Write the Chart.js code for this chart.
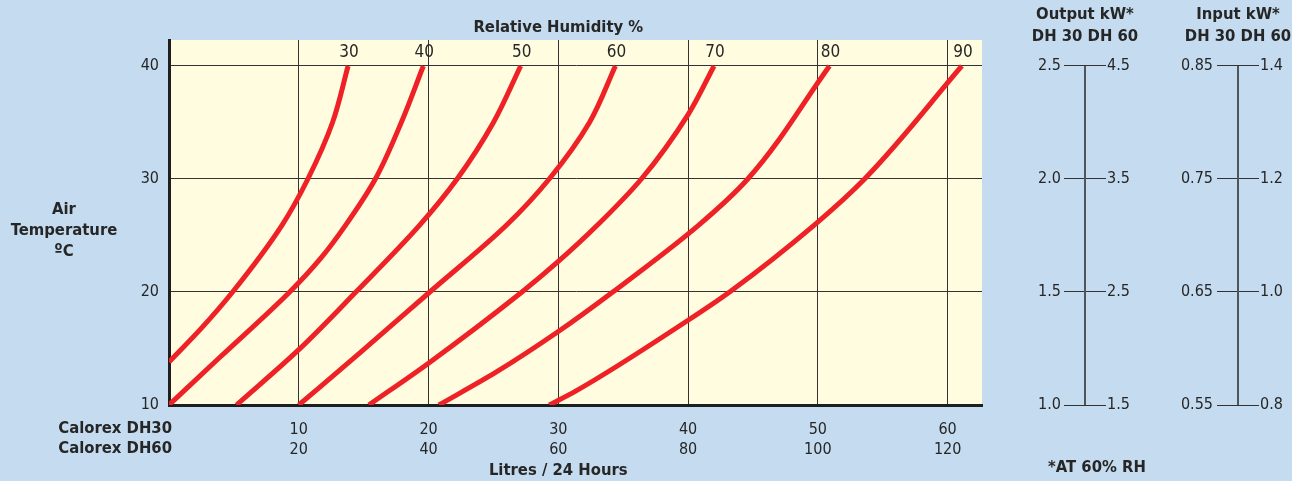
<!DOCTYPE html>
<html>
<head>
<meta charset="utf-8">
<title>Calorex DH30 / DH60 performance</title>
<script src="https://cdn.jsdelivr.net/npm/chart.js@4.4.0/dist/chart.umd.min.js"></script>
<style>
  body { margin: 0; background: #c5dcf0; }
  #wrap { position: relative; width: 1292px; height: 481px; overflow: hidden; background: #c5dcf0; }
  #wrap canvas { position: absolute; top: 0; }
</style>
</head>
<body>
<div id="wrap">
  <canvas id="main" width="1292" height="481" style="left:0"></canvas>
  <canvas id="output" width="170" height="481" style="left:990px"></canvas>
  <canvas id="input" width="152" height="481" style="left:1140px"></canvas>
</div>
<script>
// relative humidity curves: [litres / 24h (DH30), air temperature ºC]
const humidityLevels = [30, 40, 50, 60, 70, 80, 90];
const rh30 = [[0, 13.8], [2.5, 16.8], [4.9, 20], [8.7, 25.9], [10.7, 30], [12.6, 35], [13.8, 40]];
const rh40 = [[0, 10], [3.9, 14.2], [9.3, 20], [11.7, 23], [13.6, 25.9], [15.9, 30], [17.9, 35], [19.6, 40]];
const rh50 = [[5.2, 10], [10, 14.9], [14.4, 20], [19.3, 25.9], [22.2, 30], [25.0, 35], [27.1, 40]];
const rh60 = [[10, 10], [14.8, 14.7], [20.1, 20], [26, 25.9], [29.3, 30], [32.4, 35], [34.4, 40]];
const rh70 = [[15.4, 10], [20, 13.7], [27.2, 20], [30, 22.7], [33, 25.9], [36.4, 30], [40, 35.7], [42, 40]];
const rh80 = [[20.8, 10], [25.2, 12.9], [30, 16.5], [34.2, 20], [40.8, 25.9], [44.6, 30], [50.9, 40]];
const rh90 = [[29.3, 10], [31.3, 11.2], [40, 17.5], [43.2, 20], [49.7, 25.9], [53.6, 30], [61.1, 40]];
const rhCurves = [rh30, rh40, rh50, rh60, rh70, rh80, rh90];

// axis ticks
const litreTicks = [10, 20, 30, 40, 50, 60];     // DH30, DH60 is double
const tempTicks = [10, 20, 30, 40];
const outputDH30 = ['1.0', '1.5', '2.0', '2.5'];
const outputDH60 = ['1.5', '2.5', '3.5', '4.5'];
const inputDH30 = ['0.55', '0.65', '0.75', '0.85'];
const inputDH60 = ['0.8', '1.0', '1.2', '1.4'];

const FONT = '"Liberation Sans Narrow", "Arial Narrow", "DejaVu Sans Condensed", sans-serif';
const INK = '#262626';
const X_MAX = 62.65;
const Y_MAX = 42.3;

Chart.defaults.font.family = FONT;
Chart.defaults.color = INK;
Chart.defaults.animation = false;

function bold(size) { return 'bold ' + size + 'px ' + FONT; }

// yellow plot background
const plotBackground = {
    id: 'plotBackground',
    beforeDraw(chart) {
        const a = chart.chartArea;
        const ctx = chart.ctx;
        ctx.save();
        ctx.fillStyle = '#fffce0';
        ctx.fillRect(a.left, a.top, a.right - a.left, a.bottom - a.top);
        ctx.restore();
    }
};

// RH labels at curve tops plus headings
const mainTexts = {
    id: 'mainTexts',
    afterDraw(chart) {
        const ctx = chart.ctx;
        const a = chart.chartArea;
        const xs = chart.scales.x;
        ctx.save();
        ctx.fillStyle = INK;
        ctx.textBaseline = 'middle';
        ctx.textAlign = 'center';
        ctx.font = '17px ' + FONT;
        chart.data.datasets.forEach((ds, i) => {
            const pts = chart.getDatasetMeta(i).data;
            const last = pts[pts.length - 1];
            ctx.fillText(String(humidityLevels[i]), last.x + 1, last.y - 13);
        });
        const mid = xs.getPixelForValue(30);
        ctx.font = bold(16.5);
        ctx.fillText('Relative Humidity %', mid, 28);
        ctx.fillText('Litres / 24 Hours', mid, 471);
        ctx.fillText('Air', 64, 210);
        ctx.fillText('Temperature', 64, 231);
        ctx.fillText('ºC', 64, 252);
        ctx.textAlign = 'right';
        ctx.fillText('Calorex DH30', xs.getPixelForValue(0) + 3, a.bottom + 24);
        ctx.fillText('Calorex DH60', xs.getPixelForValue(0) + 3, a.bottom + 44);
        ctx.restore();
    }
};

document.addEventListener('DOMContentLoaded', function() {
    const datasets = rhCurves.map((curve, i) => ({
        label: humidityLevels[i] + '% RH',
        data: curve.map(p => ({ x: p[0], y: p[1] })),
        borderColor: '#ee2226',
        borderWidth: 5,
        pointRadius: 0,
        cubicInterpolationMode: 'monotone',
        fill: false
    }));

    new Chart(document.getElementById('main'), {
        type: 'line',
        data: { datasets: datasets },
        options: {
            responsive: false,
            indexAxis: 'y',   // litres as a smooth function of temperature
            layout: { padding: { left: 0, top: 40, right: 310, bottom: 0 } },
            plugins: { legend: { display: false }, tooltip: { enabled: false } },
            scales: {
                x: {
                    type: 'linear',
                    position: 'bottom',
                    min: 0,
                    max: X_MAX,
                    border: { display: true, color: '#1e1e1e', width: 3 },
                    grid: { color: '#333333', lineWidth: 1, drawTicks: false },
                    ticks: {
                        stepSize: 10,
                        includeBounds: false,
                        autoSkip: false,
                        maxRotation: 0,
                        padding: 15,
                        font: { size: 16, lineHeight: 1.25 },
                        callback: v => litreTicks.includes(v) ? [String(v), String(v * 2)] : ''
                    },
                    afterFit: s => { s.height = 76; }
                },
                y: {
                    type: 'linear',
                    position: 'left',
                    min: 10,
                    max: Y_MAX,
                    border: { display: true, color: '#1e1e1e', width: 3 },
                    grid: { color: '#333333', lineWidth: 1, drawTicks: false },
                    ticks: {
                        stepSize: 10,
                        includeBounds: false,
                        padding: 10,
                        font: { size: 16 },
                        callback: v => tempTicks.includes(v) ? String(v) : ''
                    },
                    afterFit: s => { s.width = 169; }
                }
            }
        },
        plugins: [plotBackground, mainTexts]
    });

    // small kW scales to the right, sharing the temperature axis
    function kwScale(id, heading, leftLabels, rightLabels, leftWidth, rightWidth, leftPad, note) {
        const headingPlugin = {
            id: 'kwHeading',
            afterDraw(chart) {
                const ctx = chart.ctx;
                const cx = chart.scales.x.getPixelForValue(0);
                ctx.save();
                ctx.fillStyle = INK;
                ctx.textAlign = 'center';
                ctx.textBaseline = 'middle';
                ctx.font = bold(16.5);
                ctx.fillText(heading, cx, 15);
                ctx.fillText('DH 30 DH 60', cx, 37);
                if (note) {
                    ctx.fillText(note, cx + 12, 468);
                }
                ctx.restore();
            }
        };
        const pick = labels => v => {
            const i = tempTicks.indexOf(v);
            return i < 0 ? '' : labels[i];
        };
        new Chart(document.getElementById(id), {
            type: 'line',
            data: {
                datasets: [{
                    data: [{ x: 0, y: tempTicks[0] }, { x: 0, y: tempTicks[tempTicks.length - 1] }],
                    borderColor: '#50555b',
                    borderWidth: 2,
                    pointRadius: 0
                }]
            },
            options: {
                responsive: false,
                layout: { padding: { left: 0, top: 40, right: 0, bottom: 76 } },
                plugins: { legend: { display: false }, tooltip: { enabled: false } },
                scales: {
                    x: { type: 'linear', min: -1, max: 1, display: false },
                    y: {
                        position: 'left',
                        min: 10,
                        max: Y_MAX,
                        border: { display: false },
                        grid: { color: '#333333', lineWidth: 1, drawTicks: false },
                        ticks: { stepSize: 10, includeBounds: false, padding: leftPad, font: { size: 16 }, callback: pick(leftLabels) },
                        afterFit: s => { s.width = leftWidth; }
                    },
                    y2: {
                        position: 'right',
                        min: 10,
                        max: Y_MAX,
                        border: { display: false },
                        grid: { display: false, drawTicks: false },
                        ticks: { stepSize: 10, includeBounds: false, padding: 1, font: { size: 16 }, callback: pick(rightLabels) },
                        afterFit: s => { s.width = rightWidth; }
                    }
                }
            },
            plugins: [headingPlugin]
        });
    }

    kwScale('output', 'Output kW*', outputDH30, outputDH60, 74, 54, 3, '*AT 60% RH');
    kwScale('input', 'Input kW*', inputDH30, inputDH60, 77, 33, 4, null);
});
</script>
</body>
</html>
